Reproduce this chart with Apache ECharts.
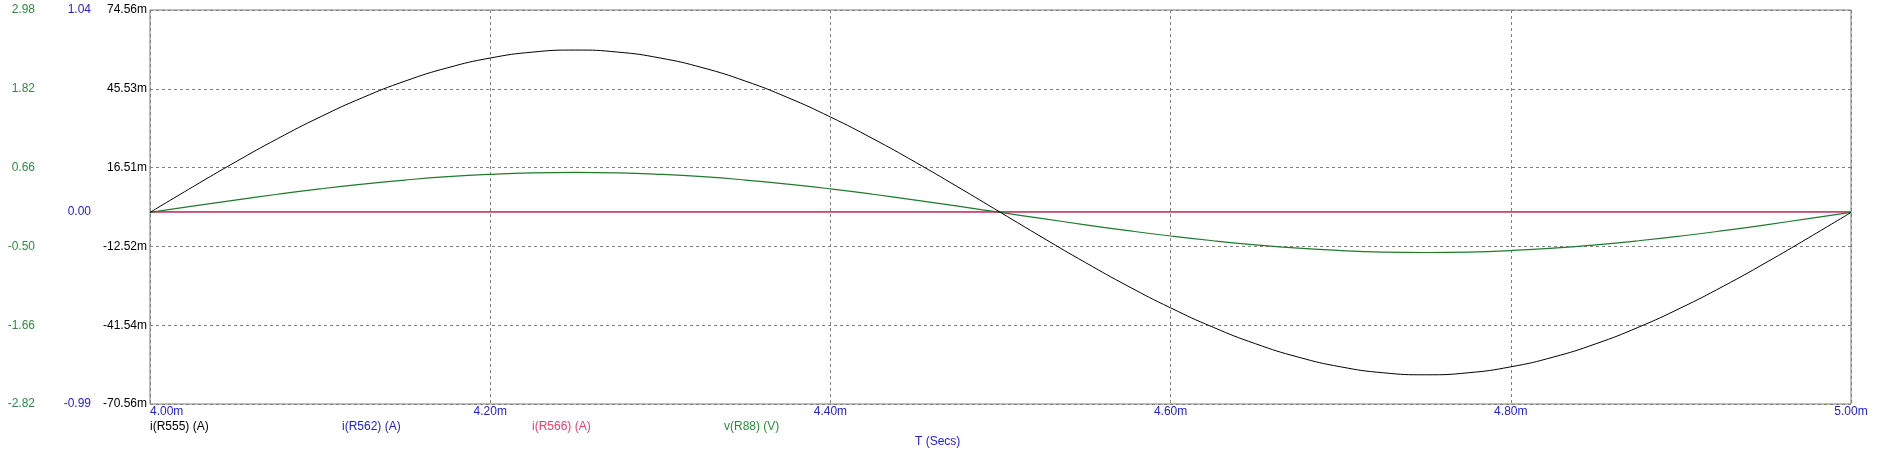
<!DOCTYPE html>
<html>
<head>
<meta charset="utf-8">
<script src="https://cdn.jsdelivr.net/npm/echarts@6/dist/echarts.min.js"></script>
<style>
html,body{margin:0;padding:0;background:#fff;}
#chart{width:1883px;height:460px;}
</style>
</head>
<body>
<div id="chart"></div>
<script>
// Time samples (ms)
const timeMs = [4.000,4.025,4.050,4.075,4.100,4.125,4.150,4.175,4.200,4.225,4.250,4.275,4.300,4.325,4.350,4.375,4.400,4.425,4.450,4.475,4.500,
                4.525,4.550,4.575,4.600,4.625,4.650,4.675,4.700,4.725,4.750,4.775,4.800,4.825,4.850,4.875,4.900,4.925,4.950,4.975,5.000];
// i(R555) in mA
const iR555 = [0,9.36,18.49,27.16,35.15,42.29,48.38,53.28,56.87,59.06,59.80,59.06,56.87,53.28,48.38,42.29,35.15,27.16,18.49,9.36,0,
               -9.36,-18.49,-27.16,-35.15,-42.29,-48.38,-53.28,-56.87,-59.06,-59.80,-59.06,-56.87,-53.28,-48.38,-42.29,-35.15,-27.16,-18.49,-9.36,0];
// i(R562) in A
const iR562 = [0,0,0,0,0,0,0,0,0,0,0,0,0,0,0,0,0,0,0,0,0,0,0,0,0,0,0,0,0,0,0,0,0,0,0,0,0,0,0,0,0];
// i(R566) in A
const iR566 = [0,0,0,0,0,0,0,0,0,0,0,0,0,0,0,0,0,0,0,0,0,0,0,0,0,0,0,0,0,0,0,0,0,0,0,0,0,0,0,0,0];
// v(R88) in V
const vR88 = [0,0.092,0.182,0.268,0.347,0.417,0.477,0.526,0.561,0.583,0.590,0.583,0.561,0.526,0.477,0.417,0.347,0.268,0.182,0.092,0,
              -0.092,-0.182,-0.268,-0.347,-0.417,-0.477,-0.526,-0.561,-0.583,-0.590,-0.583,-0.561,-0.526,-0.477,-0.417,-0.347,-0.268,-0.182,-0.092,0];

const seriesNames = ['i(R555) (A)','i(R562) (A)','i(R566) (A)','v(R88) (V)'];
const blackTicks = ['-70.56m','-41.54m','-12.52m','16.51m','45.53m','74.56m'];
const blueTicks = ['-0.99','0.00','1.04'];
const greenTicks = ['-2.82','-1.66','-0.50','0.66','1.82','2.98'];
const xTicks = ['4.00m','4.20m','4.40m','4.60m','4.80m','5.00m'];
const xTitle = 'T (Secs)';

const C_BLACK = '#000000', C_BLUE = '#2323c8', C_RED = '#e0406e', C_GREEN = '#1f7a2e', C_GREENTXT = '#2e8b3e';
const FONT = '"Liberation Sans", Arial, sans-serif';

function nearestLabel(labels, v){
  let best = labels[0], bd = Infinity;
  labels.forEach(l => { const d = Math.abs(parseFloat(l) - v); if (d < bd){bd = d; best = l;} });
  return best;
}
const pairs = arr => timeMs.map((t,i)=>[t, arr[i]]);

const xVals = xTicks.map(s=>parseFloat(s));
const bVals = blackTicks.map(s=>parseFloat(s));
const gVals = greenTicks.map(s=>parseFloat(s));
const blVals = blueTicks.map(s=>parseFloat(s));

const chart = echarts.init(document.getElementById('chart'), null, {renderer:'canvas'});
chart.setOption({
  animation:false,
  backgroundColor:'#fff',
  textStyle:{fontFamily:FONT},
  grid:{left:150, top:10, right:32, bottom:56, show:true, borderColor:'#7a7a7a', borderWidth:1, backgroundColor:'transparent'},
  xAxis:{
    type:'value', min:xVals[0], max:xVals[xVals.length-1], interval:0.2,
    axisLine:{show:false}, axisTick:{show:false},
    axisLabel:{color:C_BLUE, fontSize:12, fontFamily:FONT, margin:2, alignMinLabel:'left',
      formatter:v=>nearestLabel(xTicks, v)},
    splitLine:{show:true, lineStyle:{color:'#808080', type:[3,3], width:1}}
  },
  yAxis:[
    {type:'value', position:'left', min:bVals[0], max:bVals[bVals.length-1], interval:(bVals[bVals.length-1]-bVals[0])/5,
     axisLine:{show:false}, axisTick:{show:false},
     axisLabel:{color:C_BLACK, fontSize:12, fontFamily:FONT, margin:3, formatter:v=>nearestLabel(blackTicks, v)},
     splitLine:{show:true, lineStyle:{color:'#808080', type:[3,3], width:1}}},
    {type:'value', position:'left', offset:56, min:blVals[0], max:blVals[blVals.length-1],
     axisLine:{show:false}, axisTick:{show:false},
     axisLabel:{color:C_BLUE, fontSize:12, fontFamily:FONT, margin:3, customValues:blVals, formatter:v=>nearestLabel(blueTicks, v)},
     splitLine:{show:false}},
    {type:'value', position:'left', offset:112, min:gVals[0], max:gVals[gVals.length-1], interval:1.16,
     axisLine:{show:false}, axisTick:{show:false},
     axisLabel:{color:C_GREENTXT, fontSize:12, fontFamily:FONT, margin:3, formatter:v=>nearestLabel(greenTicks, v)},
     splitLine:{show:false}}
  ],
  series:[
    {name:seriesNames[1], type:'line', yAxisIndex:1, data:pairs(iR562), showSymbol:false, lineStyle:{color:C_BLUE, width:0.6}, z:2},
    {name:seriesNames[2], type:'line', yAxisIndex:1, data:pairs(iR566), showSymbol:false, lineStyle:{color:C_RED, width:1.6}, z:3},
    {name:seriesNames[3], type:'line', yAxisIndex:2, data:pairs(vR88), showSymbol:false, smooth:true, lineStyle:{color:C_GREEN, width:1.2}, z:4},
    {name:seriesNames[0], type:'line', yAxisIndex:0, data:pairs(iR555), showSymbol:false, smooth:true, lineStyle:{color:C_BLACK, width:1}, z:5}
  ],
  graphic:[
    {type:'text', left:150, top:421, style:{text:seriesNames[0], fill:C_BLACK, font:'12px '+FONT}},
    {type:'text', left:342, top:421, style:{text:seriesNames[1], fill:C_BLUE, font:'12px '+FONT}},
    {type:'text', left:532, top:421, style:{text:seriesNames[2], fill:C_RED, font:'12px '+FONT}},
    {type:'text', left:724, top:421, style:{text:seriesNames[3], fill:C_GREENTXT, font:'12px '+FONT}},
    {type:'text', left:915, top:436, style:{text:xTitle, fill:C_BLUE, font:'12px '+FONT}}
  ]
});
</script>
</body>
</html>
